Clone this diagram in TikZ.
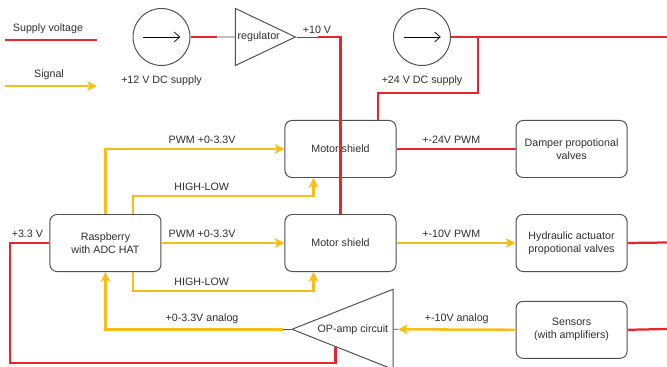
\documentclass[tikz,border=0pt]{standalone}
\usepackage{fontspec}
\setmainfont{Liberation Sans}
\usepackage{tikz}
\usetikzlibrary{shapes.geometric, arrows.meta, positioning, calc}
\definecolor{cRed}{HTML}{E8262E}
\definecolor{cYellow}{HTML}{F7BE1A}
\definecolor{cLine}{HTML}{505050}
\definecolor{cText}{HTML}{2E2E2E}
\tikzset{
  box/.style={
    rectangle, rounded corners=5pt, draw=cLine, line width=0.7pt,
    minimum width=2.775cm, minimum height=1.425cm,
    align=center, font=\fontsize{7.6}{9.2}\selectfont, text=cText
  },
  src/.style={circle, draw=cLine, line width=0.7pt, minimum size=1.425cm, inner sep=0pt},
  amp/.style={
    isosceles triangle, isosceles triangle stretches, draw=cLine,
    line width=0.7pt, inner sep=0pt, font=\fontsize{7.6}{9.2}\selectfont, text=cText
  },
  sup/.style={cRed, line width=1.6pt},
  sig/.style={-{Stealth[length=7pt, width=7pt, inset=2pt]}, cYellow, line width=1.8pt},
  wire/.style={cLine, line width=0.6pt},
  tip/.style={-{Straight Barb[length=4pt, width=7pt]}, black, line width=0.5pt},
  lbl/.style={font=\fontsize{7.6}{9.2}\selectfont, text=cText, inner sep=1pt},
}

\begin{document}
\begin{tikzpicture}[x=0.025cm, y=-0.025cm]
  \useasboundingbox (0,0) rectangle (667,367);

  % Legend
  \node[lbl] (lsup) at (48,29) {Supply voltage};
  \node[lbl] (lsig) at (49,75) {Signal};
  \coordinate (lg1a) at (5,40);   \coordinate (lg1b) at (97,40);
  \coordinate (lg2a) at (5,86);   \coordinate (lg2b) at (97,86);
  \draw[sup] (lg1a) -- (lg1b);
  \draw[sig] (lg2a) -- (lg2b);

  % Supplies and regulator
  \node[src] (s12) at (161.5,37) {};
  \node[lbl, below=0.2cm of s12] (l12) {+12 V DC supply};
  \node[amp, minimum height=1.5cm, minimum width=1.425cm, anchor=apex] (reg) at (296.7,37) {regulator};
  \node[src] (s24) at (422,37) {};
  \node[lbl, below=0.2cm of s24] (l24) {+24 V DC supply};
  \draw[tip] ([xshift=-0.46cm]s12.center) -- ([xshift=0.47cm]s12.center);
  \draw[tip] ([xshift=-0.46cm]s24.center) -- ([xshift=0.47cm]s24.center);

  % Middle column: motor shields
  \node[box] (ms1) at (340.5,149) {Motor shield};
  \node[box, below=0.9cm of ms1] (ms2) {Motor shield};

  % Left: controller
  \node[box, left=3.075cm of ms2] (rasp) {Raspberry\\with ADC HAT};

  % Right column: actuators and sensors
  \node[box, right=2.975cm of ms1] (damp) {Damper propotional\\valves};
  \node[box, right=2.975cm of ms2] (hyd)  {Hydraulic actuator\\propotional valves};
  \node[box, below=0.72cm of hyd]  (sens) {Sensors\\(with amplifiers)};

  % OP-amp
  \node[amp, shape border rotate=180, minimum height=2.525cm, minimum width=2cm, anchor=apex] (opamp) at (290.7,329.3) {OP-amp circuit};

  % Bend points and open ends
  \coordinate (p12) at (216.7,37);
  \coordinate (p10) at (318,37);
  \coordinate (b24) at (478,37);
  \coordinate (e24) at (667,37);
  \coordinate (ehyd) at (667,242.5);
  \coordinate (esen) at (667,329);
  \coordinate (c33) at (10,363);
  \coordinate (oa1) at (283,329.3);
  \coordinate (oa2) at (398,329.3);
  \coordinate (oa3) at ($(opamp.apex)!0.436!(opamp.left corner)$);

  % Supply lines
  \draw[sup] (s12.east) -- (p12);
  \draw[wire] (p12) -- (reg.west);
  \draw[wire] (reg.apex) -- (p10) node[lbl, above=1pt, pos=0.95] {+10 V};
  \draw[sup] (p10) -| (ms2.north);
  \draw[sup] (s24.east) -- (e24);
  \draw[sup] (b24) -- ++(0,56) -| ([xshift=0.94cm]ms1.north);
  \draw[sup] (ms1.east) -- (damp.west) node[lbl, above=2pt, pos=0.46] {+-24V PWM};
  \draw[sup] (hyd.east) -- (ehyd);
  \draw[sup] (sens.east) -- (esen);
  \draw[sup] (rasp.west) -| (c33) node[lbl, above=2pt, pos=0.28] {+3.3 V} -| (oa3);

  % Signals
  \draw[sig] (rasp.north) |- (ms1.west) node[lbl, above=2pt, pos=0.77] {PWM +0-3.3V};
  \draw[sig] ([xshift=0.69cm]rasp.north) -- ++(0,-18) -| ([xshift=-0.675cm]ms1.south)
    node[lbl, above=2pt, pos=0.19] {HIGH-LOW};
  \draw[sig] (rasp.east) -- (ms2.west) node[lbl, above=2pt, pos=0.33] {PWM +0-3.3V};
  \draw[sig] ([xshift=0.69cm]rasp.south) -- ++(0,19) -| ([xshift=-0.675cm]ms2.south)
    node[lbl, above=2pt, pos=0.19] {HIGH-LOW};
  \draw[sig] (ms2.east) -- (hyd.west) node[lbl, above=2pt, pos=0.46] {+-10V PWM};
  \draw[wire] (opamp.apex) -- (oa1);
  \draw[sig] (oa1) -| (rasp.south) node[lbl, above=2pt, pos=0.228] {+0-3.3V analog};
  \draw[wire] (oa2) -- (opamp.east);
  \draw[sig] (sens.west) -- (oa2) node[lbl, above=2pt, midway] {+-10V analog};

\end{tikzpicture}
\end{document}
